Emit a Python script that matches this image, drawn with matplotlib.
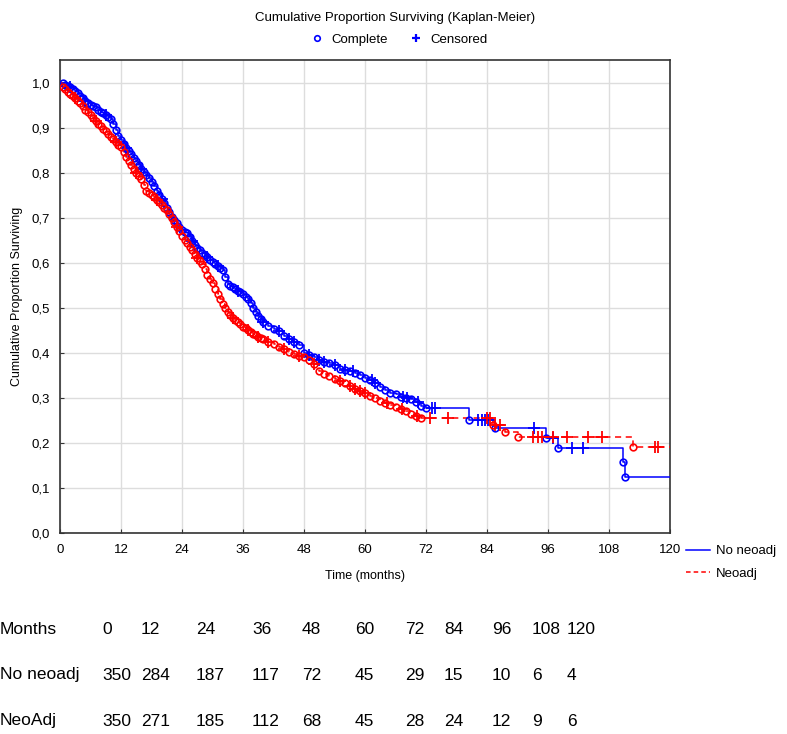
import numpy as np
import matplotlib
matplotlib.use('Agg')
import matplotlib.pyplot as plt
from matplotlib.lines import Line2D
from matplotlib.ticker import FuncFormatter

plt.rcParams['font.family'] = ['Liberation Sans', 'DejaVu Sans']

# Kaplan-Meier steps (time in months, survival after drop)
no_neo_t = [0, 0.5, 1, 1.5, 2, 2.5, 3, 3.5, 4, 4.5, 5, 5.5, 6, 6.5, 7, 7.5, 8, 8.5,
            9, 9.5, 10, 10.5, 11, 11.5, 12, 12.5, 13, 13.5, 14, 14.5, 15, 15.5, 16,
            16.5, 17, 17.5, 18, 18.5, 19, 19.5, 20, 20.5, 21, 21.5, 22, 22.5, 23,
            23.5, 24, 24.5, 25, 25.5, 26, 26.5, 27, 27.5, 28, 28.5, 29, 29.5, 30,
            30.5, 31, 31.5, 32, 32.5, 33, 33.5, 34, 34.5, 35, 35.5, 36, 36.5, 37,
            37.5, 38, 38.5, 39, 39.5, 40,
            41, 42, 43, 44, 45, 46, 47, 48, 49, 50, 51, 52, 53, 54, 55,
            56, 57, 58, 59, 60, 61, 62, 63, 64, 65, 66, 67, 68, 69, 70, 71, 72,
            80.5, 85.6, 95.6, 98, 110.8, 111.2]
no_neo_s = [1.0, 0.998, 0.995, 0.993, 0.99, 0.986, 0.982, 0.976, 0.97, 0.965, 0.96,
            0.955, 0.95, 0.948, 0.945, 0.94, 0.935, 0.932, 0.928, 0.924, 0.918,
            0.908, 0.895, 0.882, 0.872, 0.864, 0.855, 0.848, 0.842, 0.833, 0.825,
            0.816, 0.808, 0.802, 0.795, 0.788, 0.78, 0.77, 0.76, 0.751, 0.742,
            0.732, 0.722, 0.712, 0.702, 0.695, 0.688, 0.68, 0.672, 0.668, 0.665,
            0.656, 0.648, 0.64, 0.633, 0.628, 0.622, 0.617, 0.612, 0.607, 0.602,
            0.597, 0.592, 0.588, 0.583, 0.568, 0.552, 0.548, 0.545, 0.541, 0.538,
            0.534, 0.53, 0.525, 0.52, 0.51, 0.50, 0.49, 0.482, 0.475, 0.468,
            0.46, 0.452, 0.448, 0.438, 0.43, 0.425, 0.418, 0.40, 0.395, 0.39, 0.385,
            0.38, 0.377, 0.372, 0.365, 0.362, 0.36, 0.355, 0.35, 0.343, 0.34, 0.333,
            0.325, 0.318, 0.31, 0.308, 0.303, 0.30, 0.297, 0.29, 0.283, 0.278,
            0.25, 0.233, 0.21, 0.188, 0.157, 0.124]
no_neo_cens = [2, 5, 9, 13, 16, 20, 26, 29, 31, 35, 40, 43, 45, 46, 49, 51, 52, 54,
               56, 57.6, 61.4, 62, 67.5, 68.3, 70.4, 73.2, 73.8, 82.2, 83, 83.6, 84.2,
               93.3, 97, 100.7, 102.9]

neo_t = [0, 0.5, 1, 1.5, 2, 2.5, 3, 3.5, 4, 4.5, 5, 5.5, 6, 6.5, 7, 7.5, 8, 8.5,
         9, 9.5, 10, 10.5, 11, 11.5, 12, 12.5, 13, 13.5, 14, 14.5, 15, 15.5, 16,
         16.5, 17, 17.5, 18, 18.5, 19, 19.5, 20, 20.5, 21, 21.5, 22, 22.5, 23,
         23.5, 24, 24.5, 25, 25.5, 26, 26.5, 27, 27.5, 28, 28.5, 29, 29.5, 30,
         30.5, 31, 31.5, 32, 32.5, 33, 33.5, 34, 34.5, 35, 35.5, 36, 36.5, 37,
         37.5, 38, 38.5, 39, 39.5, 40,
         41, 42, 43, 44, 45, 46, 47, 48, 49, 50, 51, 52, 53, 54, 55,
         56, 57, 58, 59, 60, 61, 62, 63, 64, 65, 66, 67, 68, 69, 70, 71,
         85.2, 87.5, 90, 112.7]
neo_s = [1.0, 0.99, 0.985, 0.98, 0.975, 0.97, 0.965, 0.96, 0.955, 0.948, 0.94,
         0.934, 0.928, 0.921, 0.915, 0.909, 0.903, 0.897, 0.892, 0.886, 0.88,
         0.874, 0.868, 0.862, 0.856, 0.845, 0.835, 0.826, 0.818, 0.809, 0.80,
         0.792, 0.785, 0.772, 0.76, 0.755, 0.75, 0.745, 0.74, 0.734, 0.728,
         0.722, 0.716, 0.708, 0.70, 0.69, 0.68, 0.67, 0.66, 0.651, 0.643, 0.635,
         0.628, 0.619, 0.61, 0.604, 0.598, 0.585, 0.572, 0.563, 0.555, 0.542,
         0.53, 0.519, 0.508, 0.499, 0.49, 0.484, 0.478, 0.473, 0.468, 0.463,
         0.458, 0.454, 0.45, 0.446, 0.442, 0.439, 0.436, 0.433, 0.43,
         0.425, 0.42, 0.413, 0.408, 0.402, 0.397, 0.393, 0.39, 0.385, 0.375, 0.36,
         0.352, 0.348, 0.342, 0.337, 0.333, 0.327, 0.32, 0.315, 0.31, 0.305, 0.30,
         0.292, 0.288, 0.284, 0.279, 0.276, 0.27, 0.265, 0.26, 0.255,
         0.239, 0.224, 0.213, 0.19]
neo_cens = [3, 7, 11, 15, 19, 23, 27, 34, 37, 39, 41, 44, 47, 50, 55, 57, 58, 59,
            60, 64.3, 67.3, 70.2, 72.8, 76.3, 84, 84.6, 85.6, 86.6, 93, 94, 94.8, 97,
            99.7, 103.9, 106.6, 117, 117.6]

# numbers at risk table
months = [0, 12, 24, 36, 48, 60, 72, 84, 96, 108, 120]
risk_no_neo = [350, 284, 187, 117, 72, 45, 29, 15, 10, 6, 4]
risk_neo = [350, 271, 185, 112, 68, 45, 28, 24, 12, 9, 6]
col_x = [102, 141, 196, 252, 302, 355, 405, 444, 492, 532, 567]


def surv_at(times, surv, t):
    i = np.searchsorted(times, t, side='right') - 1
    return surv[i]


W, H = 787, 734
fig = plt.figure(figsize=(W / 100, H / 100), dpi=100)
ax = fig.add_axes([60 / W, 1 - 533 / H, 610 / W, 473 / H])

curves = [(no_neo_t, no_neo_s, no_neo_cens, '#0000ff', '-'),
          (neo_t, neo_s, neo_cens, '#ff0000', (0, (4, 3)))]
for t, s, cens, col, ls in curves:
    tt = list(t) + [120]
    ss = list(s) + [s[-1]]
    ax.plot(tt, ss, drawstyle='steps-post', color=col, lw=1.1, ls=ls, zorder=3)
    ax.plot(t[1:], s[1:], ls='none', marker='o', ms=4.8, mfc='none', mec=col,
            mew=1.2, zorder=4)
    cy = [surv_at(np.array(t), np.array(s), c) for c in cens]
    ax.plot(cens, cy, ls='none', marker='+', ms=8, mec=col, mew=1.3, zorder=4)

ax.set_xlim(0, 120)
ax.set_ylim(0, 1.05)
ax.set_xticks(months)
ax.set_yticks(np.arange(0, 1.01, 0.1))
ax.yaxis.set_major_formatter(FuncFormatter(lambda v, p: ('%.1f' % v).replace('.', ',')))
ax.grid(True, color='#dddddd', lw=1.0)
ax.set_axisbelow(True)
ax.tick_params(direction='in', length=3, labelsize=9.5, colors='#333333',
               labelcolor='black', pad=8)
ax.tick_params(axis='y', pad=7)
for sp in ax.spines.values():
    sp.set_color('#333333')
    sp.set_linewidth(1.2)
ax.set_xlabel('Time (months)', fontsize=9, labelpad=10)
ax.set_ylabel('Cumulative Proportion Surviving', fontsize=9, labelpad=6)

# top legend
fig.text(395 / W, 1 - 18 / H, 'Cumulative Proportion Surviving (Kaplan-Meier)',
         ha='center', va='center', fontsize=9.5)
top_handles = [Line2D([], [], ls='none', marker='o', ms=4, mfc='none', mec='#0000ff', mew=1.2),
               Line2D([], [], ls='none', marker='+', ms=6, mec='#0000ff', mew=1.6)]
fig.legend(top_handles, ['Complete', 'Censored'], loc='center',
           bbox_to_anchor=(399 / W, 1 - 40 / H), ncol=2, frameon=False,
           fontsize=9.5, handlelength=1.0, columnspacing=1.6, handletextpad=0.6)

# right legend
side_handles = [Line2D([], [], color='#0000ff', lw=1.1),
                Line2D([], [], color='#ff0000', lw=1.1, ls=(0, (3, 2)))]
fig.legend(side_handles, ['No neoadj', 'Neoadj'], loc='upper left',
           bbox_to_anchor=(686 / W, 1 - 545 / H), frameon=False, fontsize=9.5,
           handlelength=1.8, handletextpad=0.5, labelspacing=0.8,
           borderaxespad=0, borderpad=0)

# numbers at risk
rows = [('Months', months, 629), ('No neoadj', risk_no_neo, 675),
        ('NeoAdj', risk_neo, 721)]
for name, vals, y in rows:
    fig.text(0, 1 - y / H, name, ha='left', va='center', fontsize=12.5)
    for x, v in zip(col_x, vals):
        fig.text(x / W, 1 - y / H, str(v), ha='left', va='center', fontsize=12.5)

fig.savefig('out.png', dpi=100)
